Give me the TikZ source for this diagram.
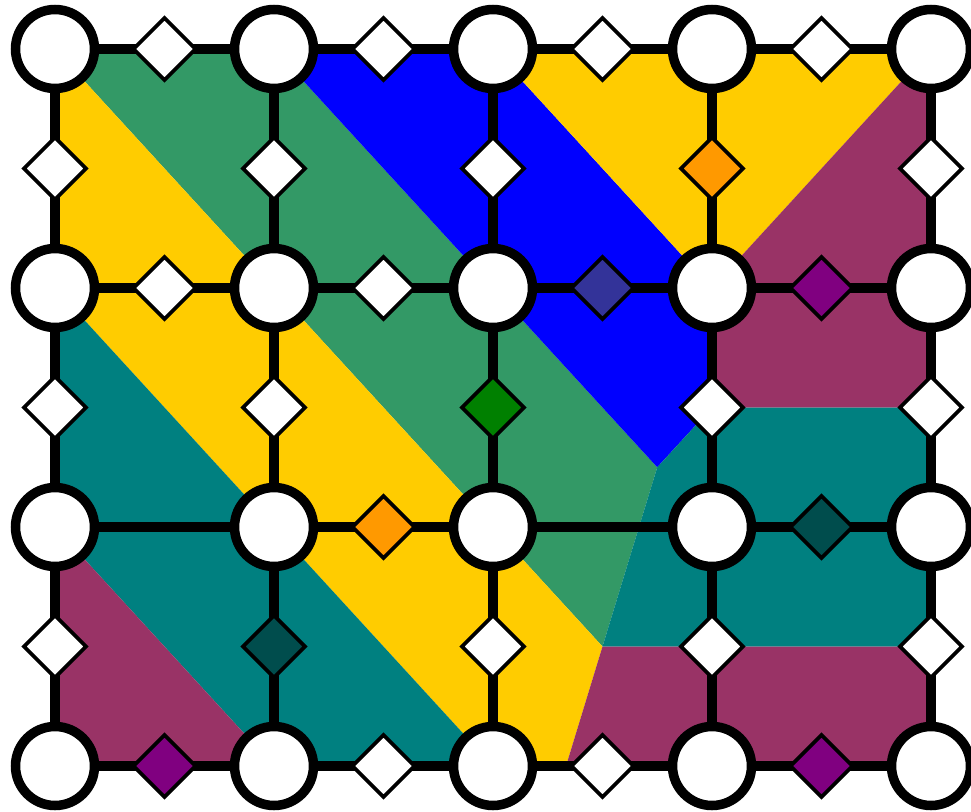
\documentclass[tikz,border=0pt]{standalone}
\usetikzlibrary{shapes.geometric}
\pgfdeclarelayer{fills}
\pgfdeclarelayer{edges}
\pgfsetlayers{fills,edges,main}
\definecolor{cgreen}{RGB}{51,153,102}
\definecolor{cblue}{RGB}{0,0,255}
\definecolor{cyellow}{RGB}{255,204,0}
\definecolor{cmaroon}{RGB}{153,51,102}
\definecolor{cteal}{RGB}{0,128,128}
\definecolor{dorange}{RGB}{255,153,0}
\definecolor{dnavy}{RGB}{51,51,153}
\definecolor{dpurple}{RGB}{128,0,128}
\definecolor{dgreen}{RGB}{0,128,0}
\definecolor{dteal}{RGB}{0,77,77}
\tikzset{
  vtx/.style={circle, draw=black, fill=white, line width=9.5pt, minimum size=79pt, inner sep=0pt},
  dia/.style={diamond, draw=black, fill=#1, line width=3.6pt, minimum width=62pt, minimum height=62pt, aspect=1, inner sep=0pt, outer sep=0pt},
  dia/.default=white,
  link/.style={line width=10pt, draw=black},
}
\begin{document}
\begin{tikzpicture}[x={(219pt,0pt)}, y={(0pt,-239pt)}]
\useasboundingbox (-55/219,-49/239) rectangle (916/219,762/239);
% vertices
\foreach \i in {0,...,4} {
  \foreach \j in {0,...,3} {
    \node[vtx] (n\i\j) at (\i,\j) {};
  }
}
% coloured regions
\begin{pgfonlayer}{fills}
\fill[cgreen] (0,0) -- (1,0) -- (2,1) -- (2.75,1.75) -- (2.5,2.5) -- (2,2) -- (1,1) -- cycle;
\fill[cyellow] (0,0) -- (0,1) -- (1,2) -- (2,3) -- (7/3,3) -- (2.5,2.5) -- (2,2) -- (1,1) -- cycle;
\fill[cblue] (1,0) -- (2,0) -- (3,1) -- (3,1.5) -- (2.75,1.75) -- (2,1) -- cycle;
\fill[cyellow] (2,0) -- (4,0) -- (3,1) -- cycle;
\fill[cmaroon] (4,0) -- (3,1) -- (3,1.5) -- (4,1.5) -- cycle;
\fill[cteal] (3,1.5) -- (4,1.5) -- (4,2.5) -- (2.5,2.5) -- (2.75,1.75) -- cycle;
\fill[cmaroon] (2.5,2.5) -- (4,2.5) -- (4,3) -- (7/3,3) -- cycle;
\fill[cteal] (0,1) -- (0,2) -- (1,3) -- (2,3) -- (1,2) -- cycle;
\fill[cmaroon] (0,2) -- (0,3) -- (1,3) -- cycle;
\end{pgfonlayer}
% edges
\begin{pgfonlayer}{edges}
\foreach \a/\b/\c in {
  n00/n10/white, n10/n20/white, n20/n30/white, n30/n40/white,
  n01/n11/white, n11/n21/white, n21/n31/dnavy, n31/n41/dpurple,
  n12/n22/dorange, n32/n42/dteal,
  n03/n13/dpurple, n13/n23/white, n23/n33/white, n33/n43/dpurple,
  n00/n01/white, n01/n02/white, n02/n03/white,
  n10/n11/white, n11/n12/white, n12/n13/dteal,
  n20/n21/white, n21/n22/dgreen, n22/n23/white,
  n30/n31/dorange, n31/n32/white, n32/n33/white,
  n40/n41/white, n41/n42/white, n42/n43/white} {
  \draw[link] (\a) -- (\b) node[midway, dia=\c] (d\a\b) {};
}
\draw[link] (n02) -- (n12);
\draw[link] (n22) -- (n32);
\end{pgfonlayer}
\end{tikzpicture}
\end{document}
